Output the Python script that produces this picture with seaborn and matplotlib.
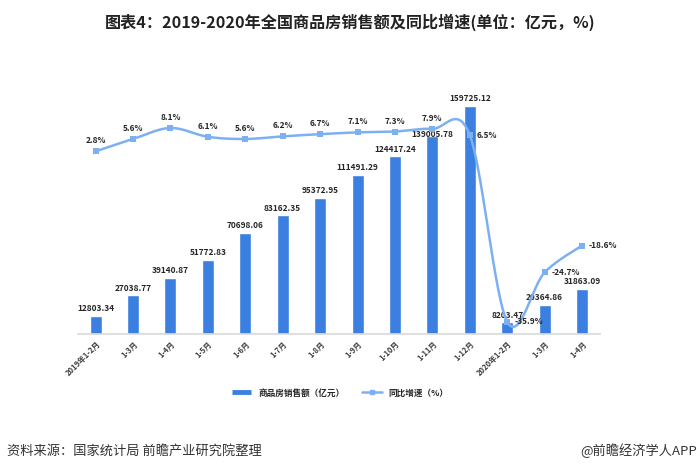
import numpy as np
import pandas as pd
import matplotlib
matplotlib.use("Agg")
import matplotlib.pyplot as plt
import seaborn as sns
from matplotlib.lines import Line2D
from matplotlib import font_manager

# ---------------- data ----------------
categories = ["2019年1-2月", "1-3月", "1-4月", "1-5月", "1-6月", "1-7月", "1-8月",
              "1-9月", "1-10月", "1-11月", "1-12月", "2020年1-2月", "1-3月", "1-4月"]
sales = [12803.34, 27038.77, 39140.87, 51772.83, 70698.06, 83162.35, 95372.95,
         111491.29, 124417.24, 139005.78, 159725.12, 8203.47, 20364.86, 31863.09]
growth = [2.8, 5.6, 8.1, 6.1, 5.6, 6.2, 6.7, 7.1, 7.3, 7.9, 6.5, -35.9, -24.7, -18.6]
series_names = ["商品房销售额（亿元）", "同比增速（%）"]
title = "图表4：2019-2020年全国商品房销售额及同比增速(单位：亿元，%)"
source = "资料来源：国家统计局 前瞻产业研究院整理"
credit = "@前瞻经济学人APP"

sns.set_theme(style="white")
plt.rcParams["font.family"] = ["Noto Sans CJK SC", "DejaVu Sans"]
plt.rcParams["axes.unicode_minus"] = False

installed = {f.name for f in font_manager.fontManager.ttflist}
NUMFONT = ["Liberation Sans Narrow"] if "Liberation Sans Narrow" in installed else ["Noto Sans CJK SC"]
NUMSIZE = 7 if "Liberation Sans Narrow" in installed else 6

BAR = "#3b7fe0"
LINE = "#7db0f2"
TXT = "#262626"

pos = np.arange(len(categories))
df = pd.DataFrame({"pos": pos, "sales": sales, "growth": growth})

fig = plt.figure(figsize=(7.0, 4.72), dpi=100)
ax = fig.add_axes([78 / 700, (472 - 334) / 472, 522 / 700, 254 / 472])

sns.barplot(data=df, x="pos", y="sales", color=BAR, width=0.32, saturation=1,
            ax=ax, order=list(pos))
ax.set_xlim(-0.47, 13.48)
ax.set_ylim(0, 178000)
ax.set_xlabel("")
ax.set_ylabel("")
ax.set_yticks([])
ax.set_xticks(pos)
ax.set_xticklabels(categories, rotation=45, ha="right", rotation_mode="anchor",
                   fontsize=5.5, fontweight="bold", color="#404040")
ax.tick_params(axis="x", length=0, pad=4)
for s in ["top", "right", "left"]:
    ax.spines[s].set_visible(False)
ax.spines["bottom"].set_color("#d9d9d9")
ax.spines["bottom"].set_linewidth(1.2)

# bar labels
bar_dy = {9: -2.5}
for i, v in enumerate(sales):
    ax.annotate(f"{v:.2f}", (i, v), xytext=(0, bar_dy.get(i, 2)),
                textcoords="offset points", ha="center", va="bottom",
                fontsize=NUMSIZE, fontweight="bold", color=TXT, family=NUMFONT)

# growth line on twin axis
ax2 = ax.twinx()
ax2.set_ylim(-38.7, 19.0)
ax2.set_yticks([])
for s in ax2.spines.values():
    s.set_visible(False)

# Excel-style smoothed curve through the data points (Bezier, Catmull-Rom tangents)
P = np.column_stack([pos.astype(float), np.array(growth, dtype=float)])
Pe = np.vstack([P[0], P, P[-1]])
curve = []
t = np.linspace(0, 1, 30)[:, None]
for k in range(len(P) - 1):
    p0, p3 = Pe[k + 1], Pe[k + 2]
    c1 = p0 + (Pe[k + 2] - Pe[k]) / 6
    c2 = p3 - (Pe[k + 3] - Pe[k + 1]) / 6
    seg = (1 - t) ** 3 * p0 + 3 * (1 - t) ** 2 * t * c1 + 3 * (1 - t) * t ** 2 * c2 + t ** 3 * p3
    curve.append(seg)
curve = np.vstack(curve)
ax2.plot(curve[:, 0], curve[:, 1], color=LINE, lw=1.8, zorder=3)
sns.scatterplot(data=df, x="pos", y="growth", marker="s", s=16, color=LINE,
                edgecolor=LINE, linewidth=0, ax=ax2, zorder=4, legend=False)
ax2.set_xlabel("")
ax2.set_ylabel("")
ax.set_xlim(-0.47, 13.48)

right_side = {10, 11, 12, 13}
for i, g in enumerate(growth):
    if i in right_side:
        ax2.annotate(f"{g}%", (i, g), xytext=(5, 0), textcoords="offset points",
                     ha="left", va="center", fontsize=NUMSIZE, fontweight="bold",
                     color=TXT, family=NUMFONT)
    else:
        ax2.annotate(f"{g}%", (i, g), xytext=(0, 7.5), textcoords="offset points",
                     ha="center", va="center", fontsize=NUMSIZE, fontweight="bold",
                     color=TXT, family=NUMFONT)

# legend
handles = [Line2D([0], [0], color=BAR, lw=3.5, solid_capstyle="butt"),
           Line2D([0], [0], color=LINE, lw=1.8, marker="s", markersize=3.5)]
leg = fig.legend(handles, series_names, loc="center", bbox_to_anchor=(340 / 700, (472 - 393) / 472),
                 ncol=2, frameon=False, handlelength=2.3, columnspacing=2.0,
                 prop={"size": 6.2, "weight": "bold"})
for txt in leg.get_texts():
    txt.set_color(TXT)

fig.text(0.5, (472 - 22) / 472, title, ha="center", va="center",
         fontsize=11.6, fontweight="bold", color="#222222")
fig.text(7 / 700, (472 - 451) / 472, source, ha="left", va="center",
         fontsize=9.5, color="#333333")
fig.text(697 / 700, (472 - 451) / 472, credit, ha="right", va="center",
         fontsize=9.5, color="#333333")

fig.savefig("out.png", dpi=100)
